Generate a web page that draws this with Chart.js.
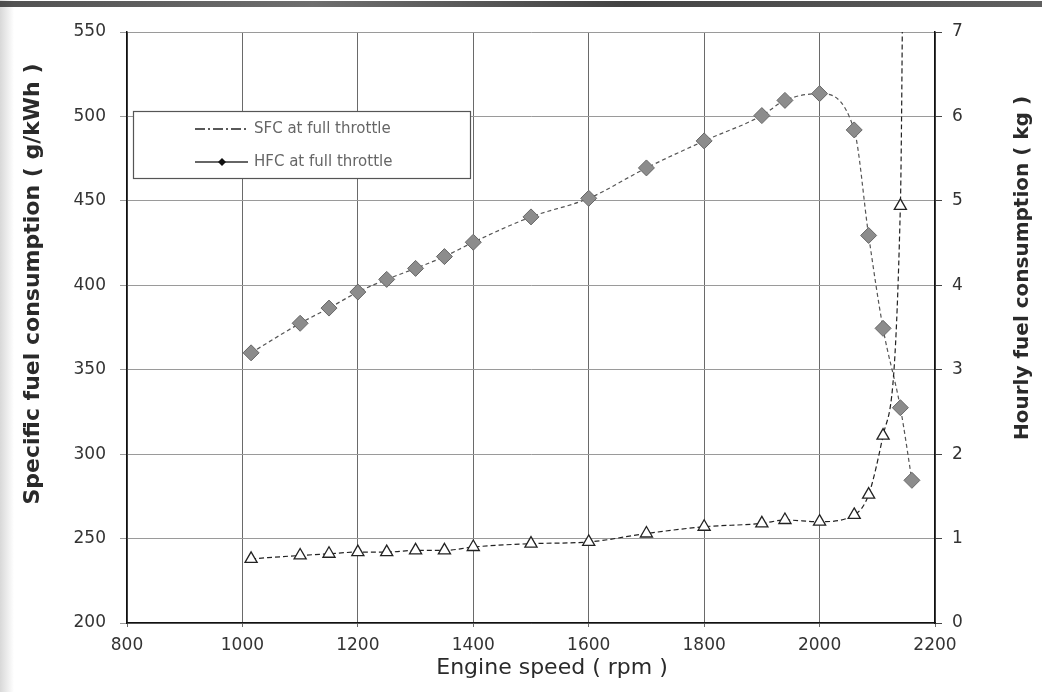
<!DOCTYPE html>
<html>
<head>
<meta charset="utf-8">
<script src="https://cdn.jsdelivr.net/npm/chart.js@4.4.1/dist/chart.umd.min.js"></script>
<style>
  html, body { margin: 0; padding: 0; background: #fff; }
  #wrap { position: relative; width: 1042px; height: 692px; overflow: hidden; }
  #scanTop { position: absolute; left: 0; top: 1px; width: 1042px; height: 6px;
    background: linear-gradient(to right, #333 0%, #555 30%, #222 60%, #444 100%); opacity: 0.85; }
  #scanLeft { position: absolute; left: 0; top: 0; width: 14px; height: 692px;
    background: linear-gradient(to right, #d8d8d8, #fff); }
  canvas { position: absolute; left: 0; top: 0; }
</style>
</head>
<body>
<div id="wrap">
  <div id="scanLeft"></div>
  <div id="scanTop"></div>
  <canvas id="c" width="1042" height="692"></canvas>
</div>
<script>
// ---- data ----
const xTicks = [800, 1000, 1200, 1400, 1600, 1800, 2000, 2200];
const leftTicks = [200, 250, 300, 350, 400, 450, 500, 550];
const rightTicks = [0, 1, 2, 3, 4, 5, 6, 7];

const sfcLabel = "SFC at full throttle";
const hfcLabel = "HFC at full throttle";

// SFC (g/kWh, left axis)
const rpmSFC = [1015, 1100, 1150, 1200, 1250, 1300, 1350, 1400, 1500, 1600, 1700, 1800, 1900, 1940, 2000, 2060, 2085, 2110, 2140, 2150];
const sfc    = [238, 240, 241, 242, 242, 243, 243, 245, 247, 248, 253, 257, 259, 261, 260, 264, 276, 311, 447, 900];

// HFC (kg, right axis)
const rpmHFC = [1015, 1100, 1150, 1200, 1250, 1300, 1350, 1400, 1500, 1600, 1700, 1800, 1900, 1940, 2000, 2060, 2085, 2110, 2140, 2160];
const hfc    = [3.20, 3.55, 3.73, 3.92, 4.07, 4.20, 4.34, 4.51, 4.81, 5.03, 5.39, 5.71, 6.01, 6.19, 6.27, 5.84, 4.59, 3.49, 2.55, 1.69];

const xTitle = "Engine speed ( rpm )";
const leftTitle = "Specific fuel consumption ( g/kWh )";
const rightTitle = "Hourly fuel consumption ( kg )";

const FONT = "'DejaVu Sans', 'Liberation Sans', Arial, sans-serif";

const titlesPlugin = {
  id: 'titles',
  afterDraw(chart) {
    const ctx = chart.ctx;
    ctx.save();
    ctx.fillStyle = '#2a2a2a';
    ctx.textAlign = 'center';
    ctx.textBaseline = 'middle';
    // x title
    ctx.font = "22px " + FONT;
    ctx.fillText(xTitle, 552, 668);
    // left title
    ctx.save();
    ctx.translate(33, 284);
    ctx.rotate(-Math.PI / 2);
    ctx.font = "bold 22px " + FONT;
    ctx.fillText(leftTitle, 0, 0);
    ctx.restore();
    // right title
    ctx.save();
    ctx.translate(1023, 268);
    ctx.rotate(-Math.PI / 2);
    ctx.font = "bold 20px " + FONT;
    ctx.fillText(rightTitle, 0, 0);
    ctx.restore();
    ctx.restore();
  }
};

const legendPlugin = {
  id: 'legendBox',
  afterDatasetsDraw(chart) {
    const ctx = chart.ctx;
    const bx = 133, by = 111, bw = 337, bh = 67;
    ctx.save();
    ctx.fillStyle = '#fff';
    ctx.fillRect(bx, by, bw, bh);
    ctx.strokeStyle = '#555';
    ctx.lineWidth = 1.2;
    ctx.strokeRect(bx + 0.5, by + 0.5, bw, bh);
    const rows = [
      { ds: chart.data.datasets[0], y: by + 18 },
      { ds: chart.data.datasets[1], y: by + 51 }
    ];
    rows.forEach((r, i) => {
      ctx.strokeStyle = i === 0 ? '#222' : '#333';
      ctx.lineWidth = 1.3;
      ctx.setLineDash(i === 0 ? [10, 3, 2, 3] : []);
      ctx.beginPath();
      ctx.moveTo(195, r.y);
      ctx.lineTo(248, r.y);
      ctx.stroke();
      ctx.setLineDash([]);
      if (i === 1) {
        ctx.fillStyle = '#111';
        ctx.beginPath();
        ctx.moveTo(222, r.y - 4); ctx.lineTo(226, r.y); ctx.lineTo(222, r.y + 4); ctx.lineTo(218, r.y);
        ctx.closePath(); ctx.fill();
      }
      ctx.fillStyle = '#666';
      ctx.font = "15px " + FONT;
      ctx.textAlign = 'left';
      ctx.textBaseline = 'middle';
      ctx.fillText(r.ds.label, 254, r.y);
    });
    ctx.restore();
  }
};

const plain = v => String(v);

new Chart(document.getElementById('c'), {
  type: 'scatter',
  data: {
    datasets: [
      {
        label: sfcLabel,
        data: rpmSFC.map((x, i) => ({ x: x, y: sfc[i] })),
        yAxisID: 'y',
        showLine: true,
        borderColor: '#222',
        borderWidth: 1.2,
        borderDash: [5, 3],
        cubicInterpolationMode: 'monotone',
        pointStyle: 'triangle',
        pointRadius: 7,
        pointBackgroundColor: '#fff',
        pointBorderColor: '#222',
        pointBorderWidth: 1.3
      },
      {
        label: hfcLabel,
        data: rpmHFC.map((x, i) => ({ x: x, y: hfc[i] })),
        yAxisID: 'y1',
        showLine: true,
        borderColor: '#555',
        borderWidth: 1.2,
        borderDash: [4, 3],
        cubicInterpolationMode: 'monotone',
        pointStyle: 'rectRot',
        pointRadius: 8,
        pointBackgroundColor: '#8c8c8c',
        pointBorderColor: '#666',
        pointBorderWidth: 1
      }
    ]
  },
  options: {
    responsive: false,
    animation: false,
    devicePixelRatio: 1,
    layout: { padding: { top: 32, left: 0, right: 0, bottom: 0 } },
    plugins: { legend: { display: false }, tooltip: { enabled: false } },
    scales: {
      x: {
        type: 'linear',
        min: xTicks[0], max: xTicks[xTicks.length - 1],
        afterBuildTicks(s) { s.ticks = xTicks.map(v => ({ value: v })); },
        afterFit(s) { s.height = 69; },
        ticks: { font: { family: FONT, size: 17 }, color: '#333', padding: 8, callback: plain },
        grid: { color: '#6a6a6a', lineWidth: 1, tickLength: 4 },
        border: { color: '#111', width: 1.5 }
      },
      y: {
        position: 'left',
        min: leftTicks[0], max: leftTicks[leftTicks.length - 1],
        afterBuildTicks(s) { s.ticks = leftTicks.map(v => ({ value: v })); },
        afterFit(s) { s.width = 127; },
        ticks: { font: { family: FONT, size: 17 }, color: '#333', padding: 14, callback: plain },
        grid: { color: '#9a9a9a', lineWidth: 1, tickLength: 7 },
        border: { color: '#111', width: 1.5 }
      },
      y1: {
        position: 'right',
        min: rightTicks[0], max: rightTicks[rightTicks.length - 1],
        afterBuildTicks(s) { s.ticks = rightTicks.map(v => ({ value: v })); },
        afterFit(s) { s.width = 107; },
        ticks: { font: { family: FONT, size: 17 }, color: '#333', padding: 10, callback: plain },
        grid: { drawOnChartArea: false, color: '#444', tickLength: 7 },
        border: { color: '#111', width: 1.5 }
      }
    }
  },
  plugins: [legendPlugin, titlesPlugin]
});
</script>
</body>
</html>
